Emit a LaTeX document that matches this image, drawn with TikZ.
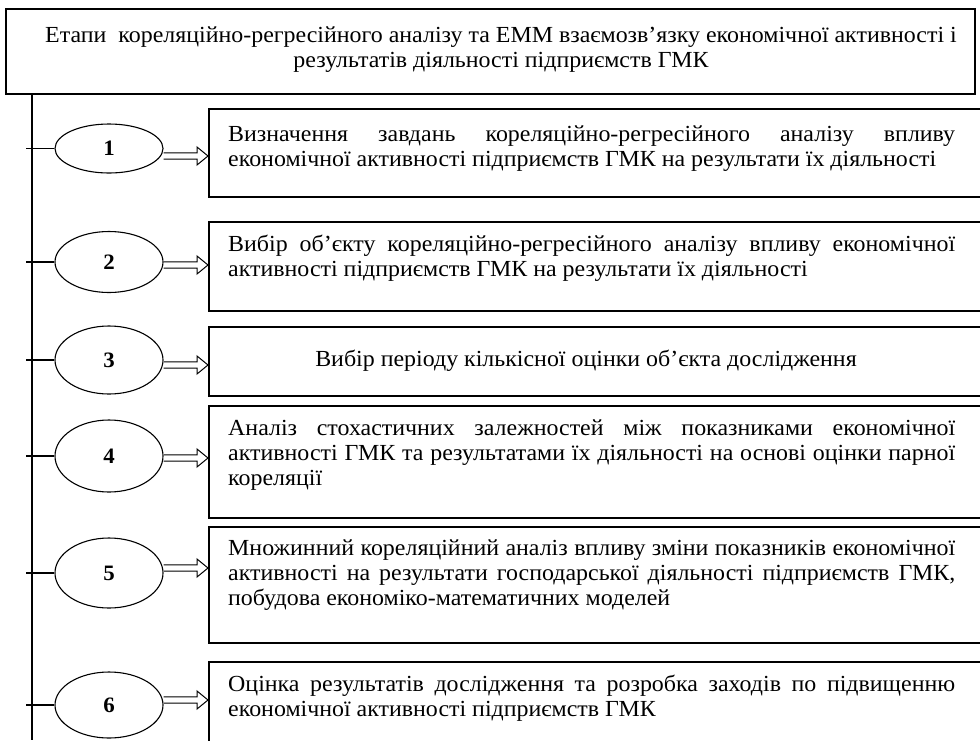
\documentclass[tikz,border=0pt]{standalone}
\usepackage{fontspec}
\setmainfont{Liberation Serif}[FakeStretch=1.04]
\usetikzlibrary{calc,shapes.geometric}
\newcommand\hollowarrow[3]{%
  \draw[hollow] ($(#1.east |- 0,#3)+(0,-3.2)$) -- ($(#2.west |- 0,#3)+(-11,-3.2)$)
    -- ($(#2.west |- 0,#3)+(-11,-9)$) -- (#2.west |- 0,#3)
    -- ($(#2.west |- 0,#3)+(-11,9)$) -- ($(#2.west |- 0,#3)+(-11,3.2)$)
    -- ($(#1.east |- 0,#3)+(0,3.2)$);}
\begin{document}
\begin{tikzpicture}[x=1pt,y=-1pt,
  frame/.style={draw, line width=1.5pt, rectangle, inner sep=0pt, anchor=north west},
  oval/.style={draw, ellipse, line width=1.1pt, minimum width=108pt, inner sep=0pt,
    font=\fontsize{22}{22}\selectfont\bfseries},
  btext/.style={anchor=north west, inner sep=0pt, text width=727pt, align=justify,
    font=\fontsize{23}{25}\selectfont},
  link/.style={line width=1.1pt},
  hollow/.style={line width=1pt, line join=miter}]
\useasboundingbox (0,0) rectangle (980,740);
\clip (0,0) rectangle (980,740);
\hyphenpenalty=10000
% title
\node[frame, line width=2pt, minimum width=969pt, minimum height=85pt] (t) at (5,8) {};
\node[inner sep=0pt, align=center, font=\fontsize{23}{25}\selectfont] (tt) at (501,50)
  {Етапи\ \ кореляційно-регресійного аналізу та ЕММ взаємозв’язку економічної активності і\\
   результатів діяльності підприємств ГМК};
% spine
\coordinate (sTop) at (32,95);
\coordinate (sBot) at (32,740);
\draw[link] (sTop) -- (sBot);
% boxes
\node[frame, minimum width=800pt, minimum height=88pt] (b1) at (208,108) {};
\node[frame, minimum width=800pt, minimum height=89pt] (b2) at (208,221) {};
\node[frame, minimum width=800pt, minimum height=69pt] (b3) at (208,326) {};
\node[frame, minimum width=800pt, minimum height=112pt] (b4) at (208,405) {};
\node[frame, minimum width=800pt, minimum height=116pt] (b5) at (208,526) {};
\node[frame, minimum width=800pt, minimum height=120pt] (b6) at (208,661) {};
% texts
\node[btext] (x1) at (228,120) {\rule{0pt}{21pt}Визначення завдань кореляційно-регресійного аналізу впливу\linebreak економічної активності підприємств ГМК на результати їх діяльності};
\node[btext] (x2) at (228,230) {\rule{0pt}{21pt}Вибір об’єкту кореляційно-регресійного аналізу впливу економічної\linebreak активності підприємств ГМК на результати їх діяльності};
\node[anchor=base, inner sep=0pt, font=\fontsize{23}{25}\selectfont] (x3) at (586,366) {Вибір періоду кількісної оцінки об’єкта дослідження};
\node[btext] (x4) at (228,414) {\rule{0pt}{21pt}Аналіз стохастичних залежностей між показниками економічної\linebreak активності ГМК та результатами їх діяльності на основі оцінки парної\linebreak кореляції};
\node[btext] (x5) at (228,534) {\rule{0pt}{21pt}Множинний кореляційний аналіз впливу зміни показників економічної\linebreak активності на результати господарської діяльності підприємств ГМК,\linebreak побудова економіко-математичних моделей};
\node[btext] (x6) at (228,670) {\rule{0pt}{21pt}Оцінка результатів дослідження та розробка заходів по підвищенню\linebreak економічної активності підприємств ГМК};
% ovals
\node[oval, minimum height=49pt] (e1) at (109,148.5) {1};
\node[oval, minimum height=61pt] (e2) at (109,262) {2};
\node[oval, minimum height=68pt] (e3) at (109,360) {3};
\node[oval, minimum height=72pt] (e4) at (109,456) {4};
\node[oval, minimum height=70pt] (e5) at (109,573) {5};
\node[oval, minimum height=66pt] (e6) at (109,705) {6};
% ticks
\foreach \i in {1,...,6}{
  \coordinate (k\i) at ($(e\i.west)+(-28,0)$);
  \draw[link] (k\i) -- (e\i.west);
}
% arrows
\hollowarrow{e1}{b1}{156}
\hollowarrow{e2}{b2}{265}
\hollowarrow{e3}{b3}{365}
\hollowarrow{e4}{b4}{458}
\hollowarrow{e5}{b5}{568}
\hollowarrow{e6}{b6}{700}
\end{tikzpicture}
\end{document}
